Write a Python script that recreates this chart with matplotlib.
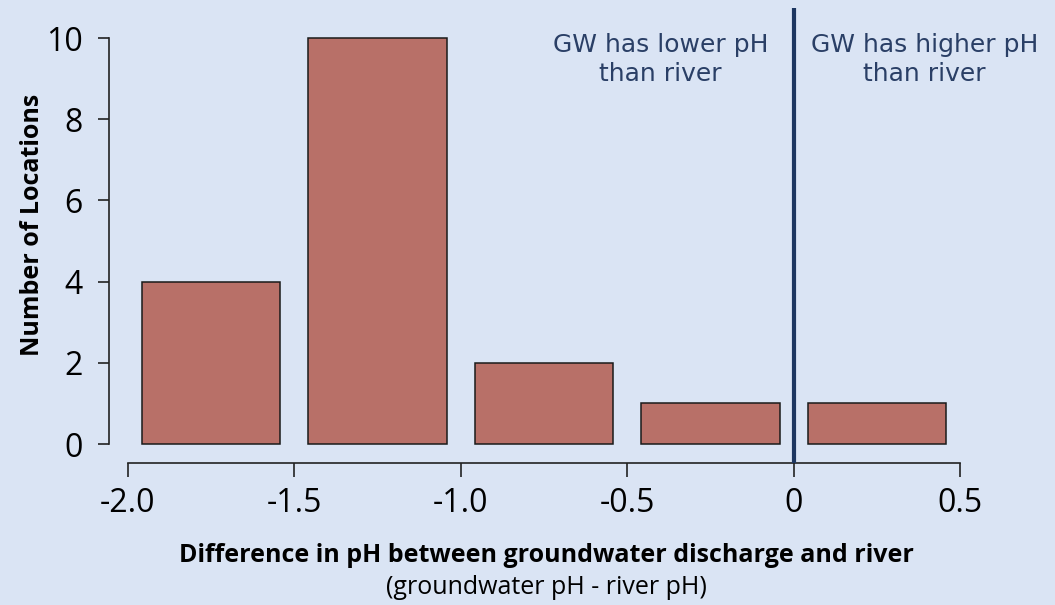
import matplotlib
matplotlib.use("Agg")
import matplotlib.pyplot as plt

# histogram of pH difference (groundwater - river)
bin_centers = [-1.75, -1.25, -0.75, -0.25, 0.25]
counts = [4, 10, 2, 1, 1]
xticks = [-2.0, -1.5, -1.0, -0.5, 0.0, 0.5]
xtick_labels = ["-2.0", "-1.5", "-1.0", "-0.5", "0", "0.5"]
yticks = [0, 2, 4, 6, 8, 10]

BG = "#dae4f4"
BAR = "#b87068"
NAVY = "#1d3660"
TEXT_NAVY = "#2a3f66"

W, H = 1055, 605
fig = plt.figure(figsize=(W / 100, H / 100), dpi=100, facecolor=BG)

# axes placed in pixel coords
left, right, top, bottom = 109, 960, 8, 463
ax = fig.add_axes([left / W, 1 - bottom / H, (right - left) / W, (bottom - top) / H])
ax.set_facecolor(BG)

ax.bar(bin_centers, counts, width=0.416, color=BAR, edgecolor="#1a1a1a", linewidth=1.1)
ax.axvline(0, color=NAVY, linewidth=3, zorder=3)

ax.set_xlim(-2.057, 0.5)
ax.set_ylim(-0.468, 10.74)

for s in ["top", "right"]:
    ax.spines[s].set_visible(False)
ax.spines["left"].set_bounds(0, 10)
ax.spines["bottom"].set_bounds(-2.0, 0.5)
for s in ["left", "bottom"]:
    ax.spines[s].set_linewidth(1.2)
    ax.spines[s].set_color("#222222")

tick_font = {"family": "Open Sans", "size": 23}
ax.set_xticks(xticks)
ax.set_xticklabels(xtick_labels, fontdict=tick_font)
ax.set_yticks(yticks)
ax.set_yticklabels([str(v) for v in yticks], fontdict=tick_font)
ax.tick_params(axis="x", length=10, width=1.2, color="#222222", pad=7)
ax.tick_params(axis="y", length=8, width=1.2, color="#222222", pad=11)

ax.text(-0.40, 10.12, "GW has lower pH\nthan river", ha="center", va="top",
        fontsize=18, color=TEXT_NAVY, family="DejaVu Sans", linespacing=1.25)
ax.text(0.393, 10.12, "GW has higher pH\nthan river", ha="center", va="top",
        fontsize=18, color=TEXT_NAVY, family="DejaVu Sans", linespacing=1.25)

fig.text(33 / W, 1 - 225 / H, "Number of Locations", rotation=90, ha="center", va="center",
         fontsize=18, fontweight="bold", family="Open Sans")
fig.text(546 / W, 1 - 555 / H, "Difference in pH between groundwater discharge and river",
         ha="center", va="center", fontsize=18, fontweight="bold", family="Open Sans")
fig.text(546 / W, 1 - 588 / H, "(groundwater pH - river pH)",
         ha="center", va="center", fontsize=18, family="Open Sans")

fig.savefig("out.png", dpi=100, facecolor=BG)
